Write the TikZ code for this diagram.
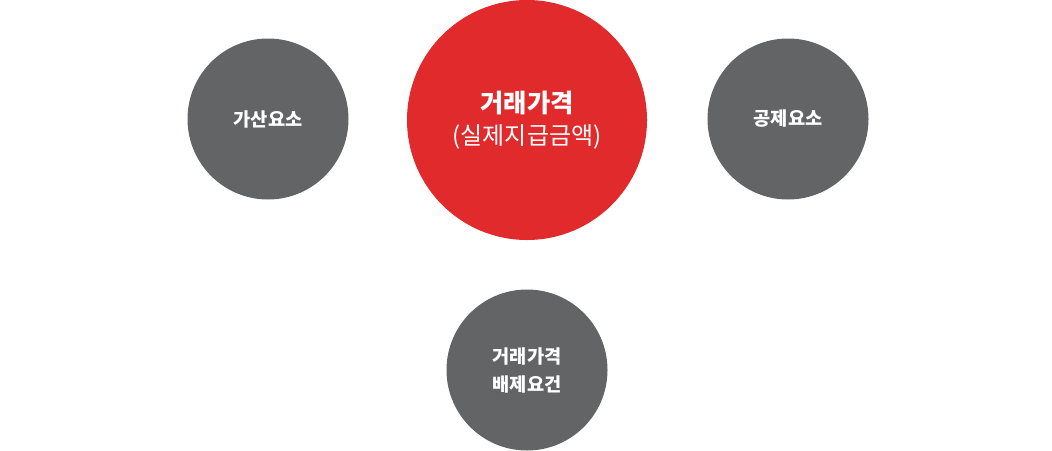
\documentclass[tikz,border=0pt]{standalone}
\usepackage{fontspec}
\setmainfont{Noto Sans CJK KR}
\usepackage{xcolor}
\usepackage{tikz}
\usetikzlibrary{positioning}
\definecolor{greyball}{HTML}{636466}
\definecolor{redball}{HTML}{E12A2B}

\begin{document}
\begin{tikzpicture}[x=0.75pt,y=-0.75pt,
    ball/.style={circle, fill=greyball, text=white, minimum size=120.75pt, inner sep=0pt,
                 align=center, font=\fontsize{14}{21}\selectfont\bfseries},
    bigball/.style={circle, fill=redball, text=white, minimum size=180pt, inner sep=0pt,
                 align=center, font=\fontsize{18}{24}\selectfont}]
                \useasboundingbox (0,0) rectangle (1052,450);
                \node[bigball] (price) at (527,120) {{\fontsize{19}{24}\selectfont\bfseries 거래가격}\\(실제지급금액)};
                \node[ball] (plus) at (268,119) {가산요소};
                \node[ball] (minus) at (788,119) {공제요소};
                \node[ball] (excl) at (527,370) {거래가격\\배제요건};
            \end{tikzpicture}
\end{document}
